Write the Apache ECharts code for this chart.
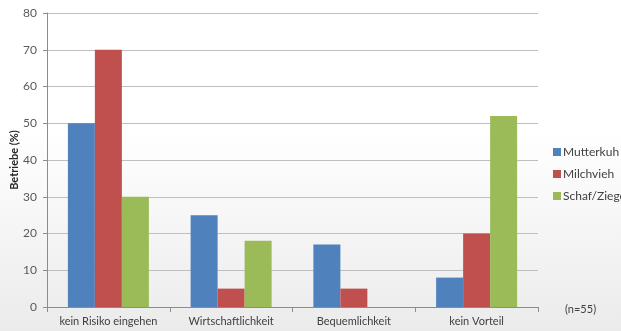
<!DOCTYPE html>
<html>
<head>
<meta charset="utf-8">
<script src="https://cdn.jsdelivr.net/npm/echarts@6/dist/echarts.min.js"></script>
<style>
  html, body { margin: 0; padding: 0; }
  body { background: linear-gradient(to bottom, #ffffff 0%, #ffffff 40%, #ebebeb 100%); }
  #chart { width: 621px; height: 331px; }
</style>
</head>
<body>
<div id="chart"></div>
<script>
// Chart data
const categories = ["kein Risiko eingehen", "Wirtschaftlichkeit", "Bequemlichkeit", "kein Vorteil"];
const mutterkuh = [50, 25, 17, 8];
const milchvieh = [70, 5, 5, 20];
const schafZiege = [30, 18, 0, 52];
const seriesNames = ["Mutterkuh", "Milchvieh", "Schaf/Ziege"];
const colors = ["#4f81bd", "#c0504d", "#9bbb59"];

const chart = echarts.init(document.getElementById("chart"));

const font = "Lato, 'Open Sans', sans-serif";

chart.setOption({
  animation: false,
  backgroundColor: "transparent",
  textStyle: { fontFamily: font },
  grid: { left: 47, right: 83, top: 13, bottom: 24, outerBoundsMode: "none", containLabel: false },
  legend: {
    orient: "vertical",
    left: 548,
    top: 141,
    itemWidth: 8,
    itemHeight: 8,
    itemGap: 10,
    icon: "rect",
    textStyle: { fontSize: 12, color: "#404040", fontFamily: font, padding: [0, 0, 0, -3] },
    data: seriesNames,
  },
  xAxis: {
    type: "category",
    data: categories,
    axisLine: { lineStyle: { color: "#8c8c8c" } },
    axisTick: { show: true, length: 5, lineStyle: { color: "#8c8c8c" } },
    axisLabel: { fontSize: 11, color: "#404040", margin: 9, interval: 0 },
  },
  yAxis: {
    type: "value",
    min: 0,
    max: 80,
    interval: 10,
    name: "Betriebe (%)",
    nameLocation: "middle",
    nameGap: 27,
    nameMoveOverlap: false,
    nameTextStyle: { fontSize: 11, fontWeight: "bold", color: "#262626" },
    axisLine: { show: true, lineStyle: { color: "#8c8c8c" } },
    axisTick: { show: true, length: 4, inside: false, lineStyle: { color: "#8c8c8c" } },
    axisLabel: { fontSize: 12, color: "#595959", margin: 10 },
    splitLine: { lineStyle: { color: "#bfbfbf" } },
  },
  series: [
    { name: seriesNames[0], type: "bar", data: mutterkuh, barWidth: 27, barGap: "0%", itemStyle: { color: colors[0] } },
    { name: seriesNames[1], type: "bar", data: milchvieh, barWidth: 27, barGap: "0%", itemStyle: { color: colors[1] } },
    { name: seriesNames[2], type: "bar", data: schafZiege, barWidth: 27, barGap: "0%", itemStyle: { color: colors[2] } },
  ],
  graphic: [
    {
      type: "text",
      left: 565,
      top: 304,
      style: { text: "(n=55)", fontSize: 11, fill: "#404040", fontFamily: font },
    },
  ],
});
</script>
</body>
</html>
